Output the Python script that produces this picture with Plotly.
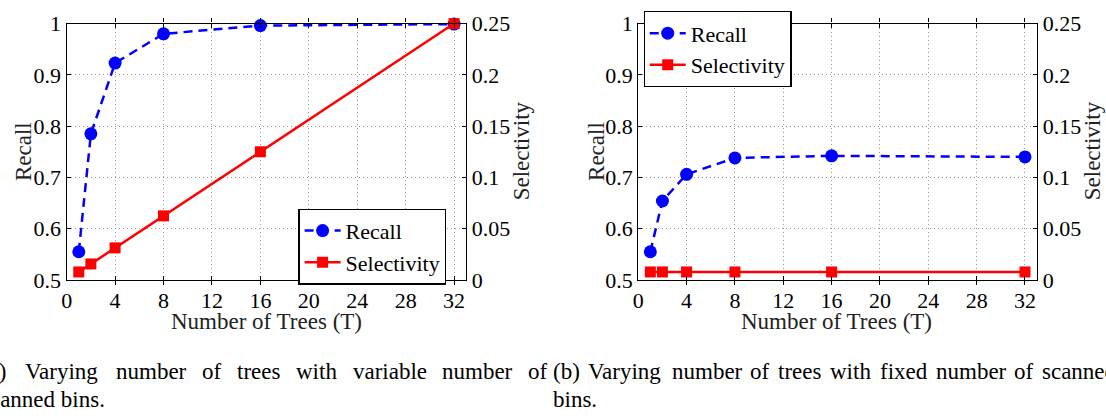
import plotly.graph_objects as go

# ---- data ----
trees = [1, 2, 4, 8, 16, 32]
recall_a = [0.555, 0.785, 0.923, 0.980, 0.996, 0.999]
selectivity_a = [0.0078, 0.0156, 0.0313, 0.0625, 0.125, 0.25]
recall_b = [0.555, 0.654, 0.706, 0.738, 0.742, 0.740]
selectivity_b = [0.0078, 0.0078, 0.0078, 0.0078, 0.0078, 0.0078]

x_ticks = [0, 4, 8, 12, 16, 20, 24, 28, 32]
recall_ticks = [0.5, 0.6, 0.7, 0.8, 0.9, 1.0]
recall_ticktext = ["0.5", "0.6", "0.7", "0.8", "0.9", "1"]
sel_ticks = [0, 0.05, 0.1, 0.15, 0.2, 0.25]
sel_ticktext = ["0", "0.05", "0.1", "0.15", "0.2", "0.25"]

caption_a_label = "(a)"
caption_a_line1 = ["Varying", "number", "of", "trees", "with", "variable", "number", "of"]
caption_a_line2 = "scanned bins."
caption_b_label = "(b)"
caption_b_line1 = ["Varying", "number", "of", "trees", "with", "fixed", "number", "of", "scanned"]
caption_b_line2 = "bins."

W, H = 1106, 418
FONT = "Liberation Serif"


def px(x):
    return x / W


def py(y):
    return 1 - y / H


BLUE = "#0000FF"
RED = "#FF0000"

fig = go.Figure()

panels = [
    dict(xa="x", ya="y", ya2="y2", rec=recall_a, sel=selectivity_a, legend="legend"),
    dict(xa="x2", ya="y3", ya2="y4", rec=recall_b, sel=selectivity_b, legend="legend2"),
]

for p in panels:
    fig.add_trace(go.Scatter(
        x=trees, y=p["rec"], name="Recall", mode="lines+markers",
        xaxis=p["xa"], yaxis=p["ya"], legend=p["legend"],
        line=dict(color=BLUE, width=2.5, dash="9px,6px"),
        marker=dict(color=BLUE, size=13, symbol="circle"),
        cliponaxis=False,
    ))
    fig.add_trace(go.Scatter(
        x=trees, y=p["sel"], name="Selectivity", mode="lines+markers",
        xaxis=p["xa"], yaxis=p["ya2"], legend=p["legend"],
        line=dict(color=RED, width=2.5),
        marker=dict(color=RED, size=11, symbol="square"),
        cliponaxis=False,
    ))

ydom = [py(285), py(12.3)]
xdoms = [[px(61), px(462.7)], [px(635.7), px(1036.7)]]

tickfont = dict(family=FONT, size=22, color="black")
GRID = "#9a9a9a"
common_x = dict(
    range=[0, 33], tickmode="array", tickvals=x_ticks, ticks="inside", ticklen=4,
    tickcolor="black", showline=True, linecolor="black", linewidth=1.3,
    mirror="allticks", showgrid=True, gridcolor=GRID, griddash="1px,3px",
    gridwidth=1, zeroline=False, tickfont=tickfont, fixedrange=True,
)
common_y = dict(
    range=[0.5, 1], tickmode="array", tickvals=recall_ticks, ticktext=recall_ticktext,
    ticks="inside", ticklen=4, tickcolor="black", showline=True, linecolor="black",
    linewidth=1.3, mirror=True, showgrid=True, gridcolor=GRID, griddash="1px,3px",
    gridwidth=1, zeroline=False, tickfont=tickfont, domain=ydom,
)
common_y2 = dict(
    range=[0, 0.25], tickmode="array", tickvals=sel_ticks, ticktext=sel_ticktext,
    ticks="inside", ticklen=4, tickcolor="black", showline=True, linecolor="black",
    linewidth=1.3, showgrid=False, zeroline=False, tickfont=tickfont, side="right",
)

fig.update_layout(
    xaxis=dict(domain=xdoms[0], anchor="y", **common_x),
    yaxis=dict(anchor="x", **common_y),
    yaxis2=dict(anchor="x", overlaying="y", **common_y2),
    xaxis2=dict(domain=xdoms[1], anchor="y3", **common_x),
    yaxis3=dict(anchor="x2", **common_y),
    yaxis4=dict(anchor="x2", overlaying="y3", **common_y2),
)

legend_style = dict(
    bgcolor="white", bordercolor="black", borderwidth=1.2,
    font=dict(family=FONT, size=22, color="black"),
    tracegroupgap=0, itemwidth=36,
)
fig.update_layout(
    legend=dict(x=px(294), y=py(249.5), xanchor="left", yanchor="middle",
                xref="paper", yref="paper", **legend_style),
    legend2=dict(x=px(641), y=py(39.5), xanchor="left", yanchor="middle",
                 xref="paper", yref="paper", **legend_style),
)

title_font = dict(family=FONT, size=23, color="#222222")
ann = []
# axis titles
for cx in [262, 835]:
    ann.append(dict(text="Number of Trees (T)", x=px(cx), y=py(329), xref="paper",
                    yref="paper", showarrow=False, xanchor="center", yanchor="middle",
                    font=title_font))
for cx in [17, 593]:
    ann.append(dict(text="Recall", x=px(cx), y=py(148), xref="paper", yref="paper",
                    showarrow=False, textangle=-90, xanchor="center", yanchor="middle",
                    font=title_font))
for cx in [518, 1092]:
    ann.append(dict(text="Selectivity", x=px(cx), y=py(148), xref="paper", yref="paper",
                    showarrow=False, textangle=-90, xanchor="center", yanchor="middle",
                    font=title_font))

# ---- captions: justified first lines (Times-metric advance widths) ----
CAP = 23
ADV = {" ": 250, "a": 444, "b": 500, "c": 444, "d": 500, "e": 444, "f": 333, "g": 500,
       "h": 500, "i": 278, "l": 278, "m": 778, "n": 500, "o": 500, "r": 333, "s": 389,
       "t": 278, "u": 500, "v": 500, "w": 722, "x": 500, "y": 500, "V": 722,
       "(": 333, ")": 333, ".": 250}


def text_w(s):
    return sum(ADV.get(ch, 500) for ch in s) * CAP / 1000.0


def justify(words, left, right):
    total = sum(text_w(w) for w in words)
    gap = (right - left - total) / (len(words) - 1)
    xs, cur = [], left
    for w in words:
        xs.append(cur)
        cur += text_w(w) + gap
    return xs


cap_font = dict(family=FONT, size=CAP, color="black")
L1, L2 = 382, 412


def cap(text, x, y, anchor="left"):
    ann.append(dict(text=text, x=px(x), y=py(y), xref="paper", yref="paper",
                    showarrow=False, xanchor=anchor, yanchor="middle", font=cap_font))


# (a)
A_LEFT = -27
cap(caption_a_label, A_LEFT, L1)
for w, xx in zip(caption_a_line1, justify(caption_a_line1, 17, 542)):
    cap(w, xx, L1)
cap(caption_a_line2, A_LEFT, L2)
# (b)
cap(caption_b_label, 548, L1)
for w, xx in zip(caption_b_line1, justify(caption_b_line1, 583, 1114)):
    cap(w, xx, L1)
cap(caption_b_line2, 548, L2)

fig.update_layout(
    annotations=ann,
    width=W, height=H,
    margin=dict(l=0, r=0, t=0, b=0),
    paper_bgcolor="white", plot_bgcolor="white",
    showlegend=True,
)

fig.write_html("out.html", config={"displayModeBar": False})
